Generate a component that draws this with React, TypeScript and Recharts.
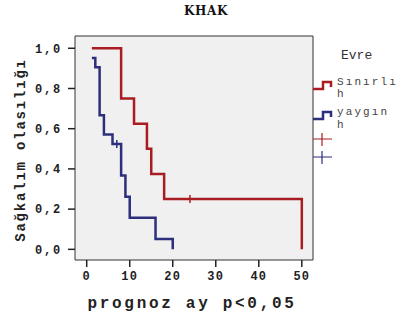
import {
  ComposedChart,
  Line,
  Scatter,
  XAxis,
  YAxis,
  ReferenceArea,
} from "recharts";

const RED = "#a81c22";
const BLUE = "#2c2f7c";
const MONO = "'Liberation Mono', 'DejaVu Sans Mono', monospace";

// Kaplan-Meier steps
const sinirliTimes = [1.2, 8, 11, 14, 15, 18, 50];
const sinirliSurv = [1.0, 0.75, 0.625, 0.5, 0.375, 0.25, 0.0];
const yayginTimes = [1.2, 2, 3, 4, 6, 8, 9, 10, 16, 20];
const yayginSurv = [0.952, 0.905, 0.667, 0.571, 0.524, 0.367, 0.262, 0.157, 0.052, 0.0];

// censored observations
const sinirliCensorTimes = [24];
const sinirliCensorSurv = [0.25];
const yayginCensorTimes = [7];
const yayginCensorSurv = [0.524];

const xTicks = [0, 10, 20, 30, 40, 50];
const yTicks = [0, 0.2, 0.4, 0.6, 0.8, 1.0];

const X_DOMAIN: [number, number] = [-2.72, 52.6];
const Y_DOMAIN: [number, number] = [-0.053, 1.061];

const zip = (t: number[], s: number[]) => t.map((v, i) => ({ t: v, s: s[i] }));

const sinirliData = zip(sinirliTimes, sinirliSurv);
const yayginData = zip(yayginTimes, yayginSurv);
const sinirliCensor = zip(sinirliCensorTimes, sinirliCensorSurv);
const yayginCensor = zip(yayginCensorTimes, yayginCensorSurv);

const censorMark = (color: string) => (props: any) => {
  const { cx, cy } = props;
  return <line x1={cx} x2={cx} y1={cy - 4} y2={cy + 4} stroke={color} strokeWidth={1.5} />;
};

const fmtY = (v: number) => v.toFixed(1).replace(".", ",");

export default function App() {
  return (
    <div style={{ position: "absolute", left: 0, top: 0, width: 404, height: 320, background: "#fff" }}>
      <ComposedChart
        width={404}
        height={320}
        margin={{ top: 36, right: 91, bottom: 30, left: 0 }}
      >
        <XAxis
          type="number"
          dataKey="t"
          domain={X_DOMAIN}
          ticks={xTicks}
          allowDataOverflow
          axisLine={false}
          tickLine={{ stroke: "#222", strokeWidth: 1.5 }}
          tickSize={7}
          tickMargin={4}
          height={30}
          tick={{ fontSize: 12, fontFamily: MONO, fontWeight: "bold", fill: "#222", letterSpacing: 1.2 }}
        />
        <YAxis
          type="number"
          dataKey="s"
          domain={Y_DOMAIN}
          ticks={yTicks}
          allowDataOverflow
          axisLine={false}
          tickLine={{ stroke: "#222", strokeWidth: 1.5 }}
          tickSize={7}
          tickMargin={6}
          width={75}
          tickFormatter={fmtY}
          tick={{ fontSize: 12, fontFamily: MONO, fontWeight: "bold", fill: "#222", letterSpacing: 1.8 }}
        />
        <ReferenceArea
          x1={X_DOMAIN[0]}
          x2={X_DOMAIN[1]}
          y1={Y_DOMAIN[0]}
          y2={Y_DOMAIN[1]}
          fill="#f0f0f0"
          fillOpacity={1}
          stroke="#333"
          strokeWidth={1}
        />
        <Line
          data={sinirliData}
          dataKey="s"
          type="stepAfter"
          stroke={RED}
          strokeWidth={2.5}
          dot={false}
          isAnimationActive={false}
        />
        <Line
          data={yayginData}
          dataKey="s"
          type="stepAfter"
          stroke={BLUE}
          strokeWidth={2.5}
          dot={false}
          isAnimationActive={false}
        />
        <Scatter data={sinirliCensor} dataKey="s" shape={censorMark(RED)} isAnimationActive={false} />
        <Scatter data={yayginCensor} dataKey="s" shape={censorMark(BLUE)} isAnimationActive={false} />
      </ComposedChart>
      <svg
        width={404}
        height={320}
        style={{ position: "absolute", left: 0, top: 0, pointerEvents: "none" }}
      >
        <text x={206} y={15} textAnchor="middle" fontFamily="'DejaVu Serif', serif" fontWeight="bold" fontSize={12} letterSpacing={0.6} fill="#111">
          KHAK
        </text>
        <text
          x={0}
          y={0}
          transform="translate(25,150) rotate(-90)"
          textAnchor="middle"
          fontFamily={MONO}
          fontWeight="bold"
          fontSize={14}
          letterSpacing={1.8}
          fill="#222"
        >
          Sağkalım olasılığı
        </text>
        <text x={192} y={308} textAnchor="middle" fontFamily={MONO} fontWeight="bold" fontSize={16} letterSpacing={2.7} fill="#222">
          prognoz ay p&lt;0,05
        </text>
        {/* legend */}
        <text x={341} y={59} fontFamily={MONO} fontSize={13} letterSpacing={0} fill="#333">
          Evre
        </text>
        <path d="M313,89 H323 V82 H331 V87" fill="none" stroke={RED} strokeWidth={2.5} />
        <text x={337} y={85} fontFamily={MONO} fontSize={11} letterSpacing={2.1} fill="#444">
          Sınırlı
        </text>
        <text x={337} y={97} fontFamily={MONO} fontSize={11} fill="#444">
          h
        </text>
        <path d="M313,119 H323 V112 H331 V117" fill="none" stroke={BLUE} strokeWidth={2.5} />
        <text x={337} y={115} fontFamily={MONO} fontSize={11} letterSpacing={2.1} fill="#444">
          yaygın
        </text>
        <text x={337} y={128} fontFamily={MONO} fontSize={11} fill="#444">
          h
        </text>
        <path d="M313,139 H332 M322,133 V146" stroke={RED} strokeWidth={1.2} />
        <path d="M313,157 H332 M322,151 V164" stroke={BLUE} strokeWidth={1.2} />
      </svg>
    </div>
  );
}
